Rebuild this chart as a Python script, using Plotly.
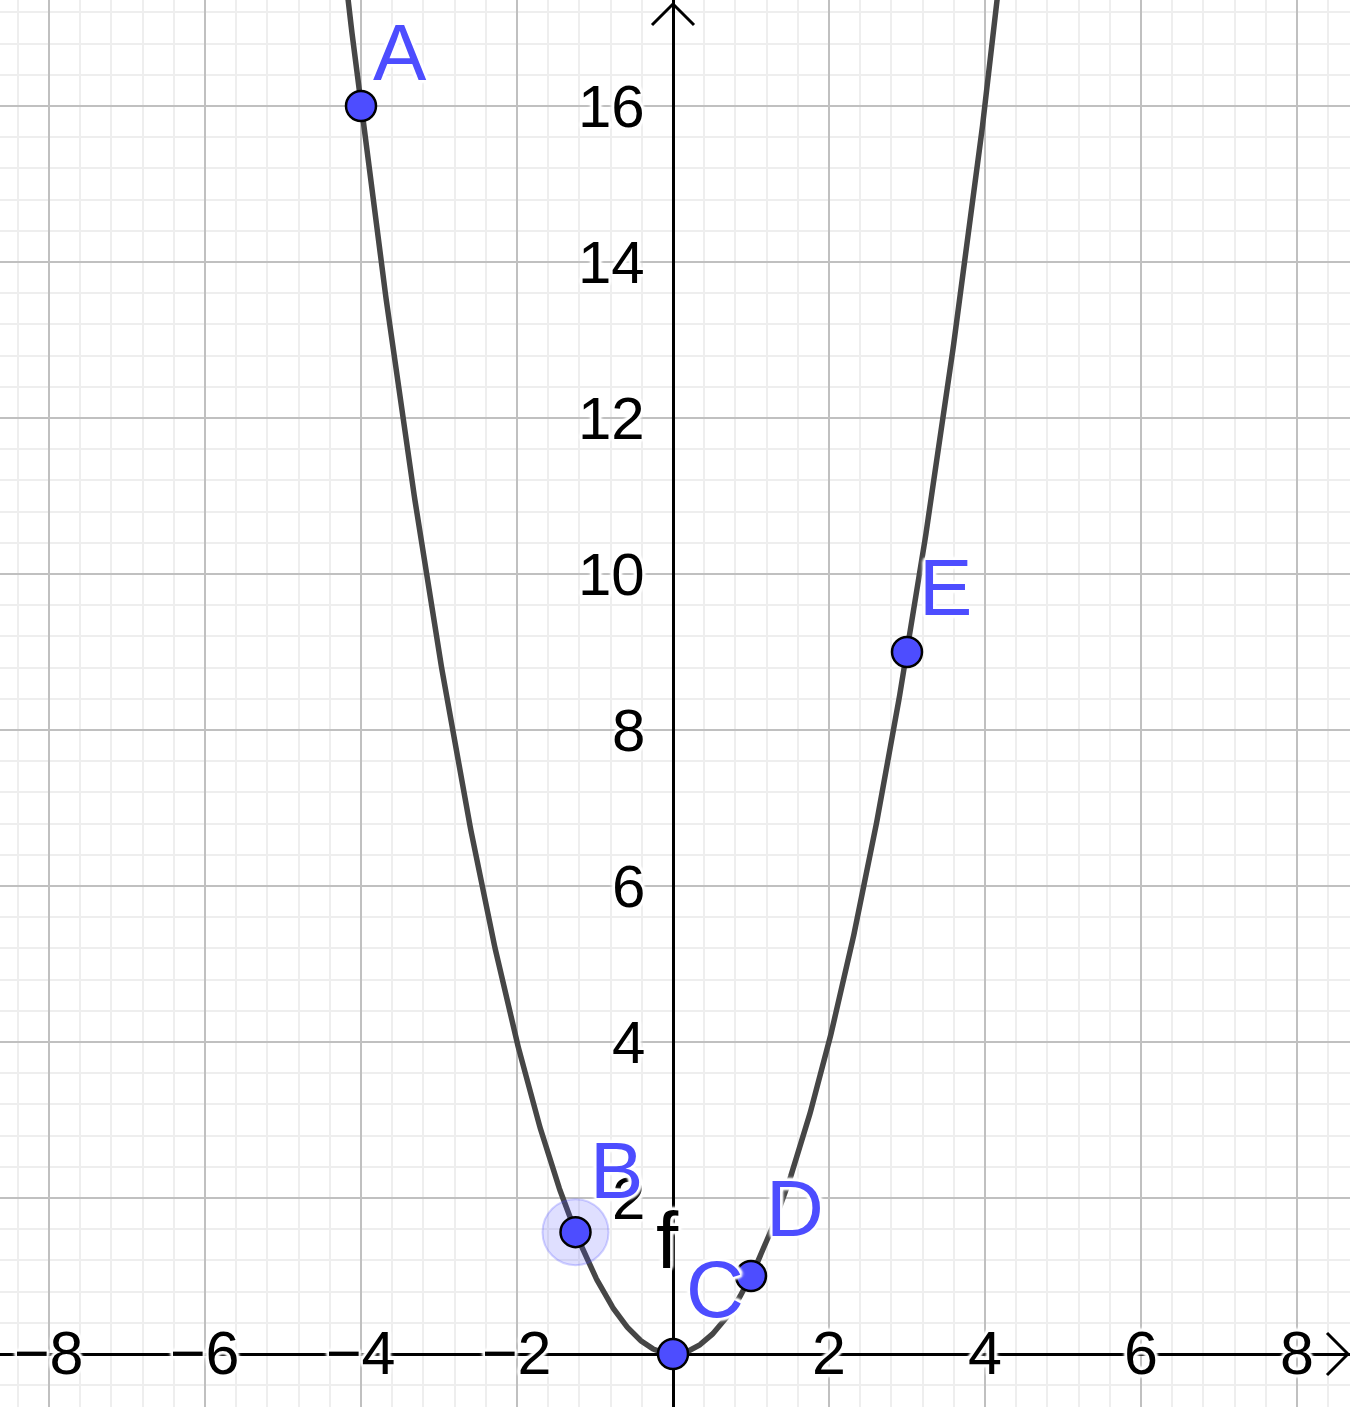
import numpy as np
import plotly.graph_objects as go

# ---- data ----
f_coef = [1, 0, 0]              # f(x) = x^2
point_names = ["A", "B", "C", "D", "E"]
point_x = [-4, -1.25, 0, 1, 3]
point_y = [16, 1.5625, 0, 1, 9]
selected_point = "B"
x_tick_vals = [-8, -6, -4, -2, 2, 4, 6, 8]
y_tick_vals = [2, 4, 6, 8, 10, 12, 14, 16]

# ---- geometry (pixels) ----
W, H = 1350, 1407
S = 78.0          # px per unit
X0, Y0 = 673, 1354  # pixel position of origin
xr = [-X0 / S, (W - X0) / S]
yr = [-(H - Y0) / S, Y0 / S]

FONT = "Arial, Liberation Sans, sans-serif"
BLUE = "rgb(77,77,255)"
HALO = ("3px 0 3px white, -3px 0 3px white, 0 3px 3px white, 0 -3px 3px white, "
        "2px 2px 2px white, -2px -2px 2px white, 2px -2px 2px white, -2px 2px 2px white")

fig = go.Figure()

# curve
xs = np.linspace(xr[0], xr[1], 1500)
ys = np.polyval(f_coef, xs)
fig.add_trace(go.Scatter(x=xs, y=ys, mode="lines",
                         line=dict(color="rgb(70,70,70)", width=5.5),
                         hoverinfo="skip", showlegend=False))

# selection halo
si = point_names.index(selected_point)
fig.add_trace(go.Scatter(x=[point_x[si]], y=[point_y[si]], mode="markers",
                         marker=dict(size=66, color="rgba(77,77,255,0.18)",
                                     line=dict(color="rgba(77,77,255,0.25)", width=2)),
                         hoverinfo="skip", showlegend=False))

# points
fig.add_trace(go.Scatter(x=point_x, y=point_y, mode="markers",
                         marker=dict(size=30, color=BLUE, line=dict(color="black", width=2.5)),
                         showlegend=False))

# tick labels (drawn first so that point labels sit on top)
for v in x_tick_vals:
    lab = ("\u2212" + str(abs(v))) if v < 0 else str(v)
    fig.add_annotation(x=v, y=0, text=lab, showarrow=False, xanchor="center",
                       yanchor="middle", yshift=1,
                       font=dict(family=FONT, size=61, color="black", shadow=HALO))
for v in y_tick_vals:
    fig.add_annotation(x=0, y=v, text=str(v), showarrow=False, xanchor="right",
                       yanchor="middle", xshift=-26, yshift=0,
                       font=dict(family=FONT, size=60, color="black", shadow=HALO))

# function label
fig.add_annotation(x=(667 - X0) / S, y=(Y0 - 1244) / S, text="f", showarrow=False,
                   xanchor="center", yanchor="middle", yshift=4,
                   font=dict(family=FONT, size=80, color="black", shadow=HALO))

# point labels (pixel offsets)
offsets = {"A": (39, 54), "B": (41, 62), "C": (42, 65), "D": (44, 68), "E": (38, 65)}
for n, px, py in zip(point_names, point_x, point_y):
    dx, dy = offsets[n]
    fig.add_annotation(x=px, y=py, text=n, showarrow=False, xshift=dx, yshift=dy,
                       xanchor="center", yanchor="middle",
                       font=dict(family=FONT, size=80, color=BLUE, shadow=HALO))

# axis arrows
a = 21 / S
ytip = (Y0 - 4) / S
xtip = (1348 - X0) / S
fig.add_shape(type="path", xref="x", yref="y",
              path=f"M {-a} {ytip - a} L 0 {ytip} L {a} {ytip - a}",
              line=dict(color="black", width=3))
fig.add_shape(type="path", xref="x", yref="y",
              path=f"M {xtip - a} {a} L {xtip} 0 L {xtip - a} {-a}",
              line=dict(color="black", width=3))

axis_common = dict(showticklabels=False, ticks="", showline=False,
                   dtick=2, tick0=0, showgrid=True, gridcolor="rgb(192,192,192)", gridwidth=2,
                   minor=dict(dtick=0.4, tick0=0, showgrid=True,
                              gridcolor="rgb(238,238,238)", gridwidth=2),
                   zeroline=True, zerolinecolor="black", zerolinewidth=3,
                   fixedrange=True)
fig.update_xaxes(range=xr, **axis_common)
fig.update_yaxes(range=yr, **axis_common)

fig.update_layout(width=W, height=H, margin=dict(l=0, r=0, t=0, b=0),
                  plot_bgcolor="white", paper_bgcolor="white", showlegend=False)

fig.write_html("out.html", config={"displayModeBar": False},
               post_script="document.body.style.margin='0';document.body.style.overflow='hidden';")
